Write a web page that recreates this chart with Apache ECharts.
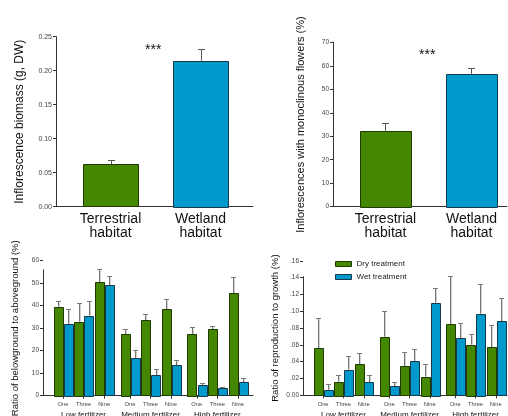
<!DOCTYPE html>
<html>
<head>
<meta charset="utf-8">
<script src="https://cdn.jsdelivr.net/npm/echarts@6/dist/echarts.min.js"></script>
<style>
  html, body { margin: 0; padding: 0; background: #fff; }
  #chart { width: 508px; height: 416px; }
</style>
</head>
<body>
<div id="chart"></div>
<script>
// top panels
const habitats = ['Terrestrial\nhabitat', 'Wetland\nhabitat'];
const biomass = [0.0624, 0.2147];
const biomassErr = [0.0067, 0.0177];
const monoclinous = [32.3, 56.6];
const monoclinousErr = [3.2, 2.6];

// bottom panels: 3 fertilizer levels x 3 densities
const fertilizers = ['Low fertilizer', 'Medium fertilizer', 'High fertilizer'];
const densities = ['One', 'Three', 'Nine'];
const ratioDry = [39.6, 32.9, 50.4, 27.4, 33.5, 38.4, 27.4, 29.5, 45.5];
const ratioDryErr = [2.6, 8.1, 5.7, 2.1, 2.6, 4.4, 3.3, 1.3, 7.1];
const ratioWet = [31.9, 35.6, 49.0, 16.6, 9.2, 13.5, 4.7, 3.3, 5.9];
const ratioWetErr = [6.6, 6.3, 4.2, 3.5, 2.5, 2.2, 0.8, 0.7, 1.8];
const reproDry = [0.056, 0.0163, 0.0369, 0.0698, 0.0349, 0.0222, 0.0849, 0.0603, 0.0571];
const reproDryErr = [0.0365, 0.0075, 0.0131, 0.0302, 0.0163, 0.0147, 0.0568, 0.0131, 0.0262];
const reproWet = [0.0067, 0.0306, 0.0155, 0.0111, 0.0405, 0.1103, 0.0679, 0.0972, 0.0881];
const reproWetErr = [0.0064, 0.0158, 0.0083, 0.0052, 0.0143, 0.0175, 0.0182, 0.0349, 0.0278];
const treatments = ['Dry treatment', 'Wet treatment'];

const GREEN = '#438800', GREEN_EDGE = '#1f3a00';
const BLUE = '#0099cc', BLUE_EDGE = '#173a4a';
const FONT = 'Liberation Sans, Arial, sans-serif';

// x positions: a small extra gap between fertilizer groups
const slotNames = fertilizers.flatMap(() => densities);
const slotPos = slotNames.map((_, i) => i + Math.floor(i / 3) * 0.25);
const groupPos = fertilizers.map((_, g) => slotPos[g * 3 + 1]);
const habitatPos = habitats.map((_, i) => i);

const nameAt = (positions, names) => (v) => {
  const i = positions.findIndex((p) => Math.abs(p - v) < 1e-6);
  return i < 0 ? '' : names[i];
};

// bar + error bar drawn through the axes
const barRender = (o) => (params, api) => {
  const x = api.value(0) + o.offset;
  const v = api.value(1);
  const e = api.value(2);
  const tl = api.coord([x - o.width / 2, v]);
  const br = api.coord([x + o.width / 2, 0]);
  const top = api.coord([x, v + e]);
  const cx = Math.round(top[0]) + 0.5;
  const ty = Math.round(top[1]) + 0.5;
  const children = [];
  if (o.glow) {
    children.push({ type: 'line', shape: { x1: cx + 1, y1: tl[1], x2: cx + 1, y2: ty + 1 }, style: { stroke: '#d0d0d0', lineWidth: 1 } });
  }
  children.push({ type: 'line', shape: { x1: cx, y1: tl[1], x2: cx, y2: ty }, style: { stroke: o.errColor, lineWidth: 1 } });
  children.push({ type: 'line', shape: { x1: cx - o.cap / 2, y1: ty, x2: cx + o.cap / 2, y2: ty }, style: { stroke: o.errColor, lineWidth: 1 } });
  children.push({
    type: 'rect',
    shape: { x: Math.round(tl[0]) + 0.5, y: Math.round(tl[1]) + 0.5, width: Math.round(br[0] - tl[0]), height: Math.round(br[1] - tl[1]) },
    style: { fill: o.fills[params.dataIndex % o.fills.length], stroke: o.strokes[params.dataIndex % o.strokes.length], lineWidth: 1 }
  });
  return { type: 'group', children };
};

const toData = (pos, vals, errs) => pos.map((p, i) => [p, vals[i], errs[i]]);
const maxTop = (a, ae, b, be) => Math.max(...a.map((v, i) => v + ae[i]), ...b.map((v, i) => v + be[i]));

const tickLabel = { color: '#444', fontFamily: FONT };
const axisLine = { onZero: false, lineStyle: { color: '#333', width: 1 } };

const topX = (grid, min, max) => ({
  type: 'value', gridIndex: grid, min, max, position: 'bottom',
  splitLine: { show: false },
  axisLine,
  axisTick: { show: false },
  axisLabel: {
    customValues: habitatPos, formatter: nameAt(habitatPos, habitats),
    color: '#111', fontSize: 14, lineHeight: 14, margin: 5, fontFamily: FONT
  }
});

const bottomX = (grid, min, max) => ({
  type: 'value', gridIndex: grid, min, max, position: 'bottom',
  splitLine: { show: false },
  axisLine,
  axisTick: { customValues: slotPos, length: 3, lineStyle: { color: '#333' } },
  axisLabel: { customValues: slotPos, formatter: nameAt(slotPos, slotNames), ...tickLabel, fontSize: 5.8, margin: 6 }
});

const groupX = (grid, min, max) => ({
  type: 'value', gridIndex: grid, min, max, position: 'bottom', offset: 12,
  splitLine: { show: false },
  axisLine: { show: false, onZero: false },
  axisTick: { show: false },
  axisLabel: { customValues: groupPos, formatter: nameAt(groupPos, fertilizers), color: '#111', fontSize: 8, margin: 3.5, fontFamily: FONT }
});

const yAxisBase = (grid, max, interval, name, nameGap, nameSize, labelSize, fmt, showLine) => ({
  type: 'value', gridIndex: grid, min: 0, max, interval, position: 'left',
  name, nameLocation: 'middle', nameGap,
  nameTextStyle: { fontSize: nameSize, color: '#111', fontFamily: FONT },
  splitLine: { show: false },
  axisLine: { ...axisLine, show: showLine },
  axisTick: { show: true, length: 3, lineStyle: { color: '#333' } },
  axisLabel: { ...tickLabel, fontSize: labelSize, margin: 4, formatter: fmt }
});

const ratioTop = maxTop(ratioDry, ratioDryErr, ratioWet, ratioWetErr);
const reproTop = maxTop(reproDry, reproDryErr, reproWet, reproWetErr);
const yLine = (xMin, yTop) => ({
  silent: true, symbol: 'none', label: { show: false },
  lineStyle: { color: '#333', width: 1, type: 'solid' },
  data: [[{ coord: [xMin, 0] }, { coord: [xMin, yTop] }]]
});

const chart = echarts.init(document.getElementById('chart'), null, { renderer: 'canvas' });

chart.setOption({
  animation: false,
  backgroundColor: '#fff',
  textStyle: { fontFamily: FONT },
  grid: [
    { left: 56, top: 36.7, width: 197, height: 170, outerBoundsMode: 'none' },
    { left: 333, top: 42.3, width: 174, height: 164.4, outerBoundsMode: 'none' },
    { left: 43, top: 260.7, width: 210, height: 135, outerBoundsMode: 'none' },
    { left: 303, top: 260.9, width: 204, height: 134.4, outerBoundsMode: 'none' }
  ],
  xAxis: [
    topX(0, -0.606, 1.583),
    topX(1, -0.61, 1.413),
    bottomX(2, -0.97, 9.23),
    bottomX(3, -0.99, 9.05),
    groupX(2, -0.97, 9.23),
    groupX(3, -0.99, 9.05)
  ],
  yAxis: [
    yAxisBase(0, 0.25, 0.05, 'Inflorescence biomass (g, DW)', 30, 12, 7, (v) => v.toFixed(2), true),
    yAxisBase(1, 70, 10, 'Inflorescences with monoclinous flowers (%)', 27, 11, 6.5, (v) => String(v), true),
    yAxisBase(2, 60, 10, 'Ratio of belowground to aboveground (%)', 23, 9.5, 6.5, (v) => String(v), false),
    yAxisBase(3, 0.16, 0.02, 'Ratio of reproduction to growth (%)', 23, 9.5, 6.5,
      (v) => (v === 0 ? '0.00' : v.toFixed(2).replace(/^0/, '')), false)
  ],
  legend: {
    data: [
      { name: treatments[0], itemStyle: { color: GREEN, borderColor: GREEN_EDGE, borderWidth: 1 } },
      { name: treatments[1], itemStyle: { color: BLUE, borderColor: BLUE_EDGE, borderWidth: 1 } }
    ],
    orient: 'vertical', left: 330, top: 255,
    icon: 'rect', itemWidth: 16, itemHeight: 5, itemGap: 5,
    selectedMode: false,
    textStyle: { fontSize: 8, color: '#222', fontFamily: FONT }
  },
  graphic: [
    { type: 'text', left: 145, top: 43, style: { text: '***', fontSize: 14, fill: '#111', fontFamily: FONT } },
    { type: 'text', left: 419, top: 48, style: { text: '***', fontSize: 14, fill: '#111', fontFamily: FONT } }
  ],
  series: [
    {
      type: 'custom', name: 'biomass', xAxisIndex: 0, yAxisIndex: 0,
      renderItem: barRender({ offset: 0, width: 0.611, cap: 7, errColor: '#555', fills: [GREEN, BLUE], strokes: [GREEN_EDGE, BLUE_EDGE] }),
      encode: { x: 0, y: 1 },
      data: toData(habitatPos, biomass, biomassErr)
    },
    {
      type: 'custom', name: 'monoclinous', xAxisIndex: 1, yAxisIndex: 1,
      renderItem: barRender({ offset: 0, width: 0.593, cap: 7, errColor: '#555', fills: [GREEN, BLUE], strokes: [GREEN_EDGE, BLUE_EDGE] }),
      encode: { x: 0, y: 1 },
      data: toData(habitatPos, monoclinous, monoclinousErr)
    },
    {
      type: 'custom', name: treatments[0], xAxisIndex: 2, yAxisIndex: 2,
      itemStyle: { color: GREEN },
      renderItem: barRender({ offset: -0.245, width: 0.42, cap: 5, errColor: '#777', glow: true, fills: [GREEN], strokes: [GREEN_EDGE] }),
      encode: { x: 0, y: 1 },
      data: toData(slotPos, ratioDry, ratioDryErr),
      markLine: yLine(-0.97, ratioTop)
    },
    {
      type: 'custom', name: treatments[1], xAxisIndex: 2, yAxisIndex: 2,
      itemStyle: { color: BLUE },
      renderItem: barRender({ offset: 0.245, width: 0.42, cap: 5, errColor: '#777', glow: true, fills: [BLUE], strokes: [BLUE_EDGE] }),
      encode: { x: 0, y: 1 },
      data: toData(slotPos, ratioWet, ratioWetErr)
    },
    {
      type: 'custom', name: treatments[0], xAxisIndex: 3, yAxisIndex: 3,
      itemStyle: { color: GREEN },
      renderItem: barRender({ offset: -0.245, width: 0.42, cap: 5, errColor: '#777', glow: true, fills: [GREEN], strokes: [GREEN_EDGE] }),
      encode: { x: 0, y: 1 },
      data: toData(slotPos, reproDry, reproDryErr),
      markLine: yLine(-0.99, reproTop)
    },
    {
      type: 'custom', name: treatments[1], xAxisIndex: 3, yAxisIndex: 3,
      itemStyle: { color: BLUE },
      renderItem: barRender({ offset: 0.245, width: 0.42, cap: 5, errColor: '#777', glow: true, fills: [BLUE], strokes: [BLUE_EDGE] }),
      encode: { x: 0, y: 1 },
      data: toData(slotPos, reproWet, reproWetErr)
    }
  ]
});
</script>
</body>
</html>
